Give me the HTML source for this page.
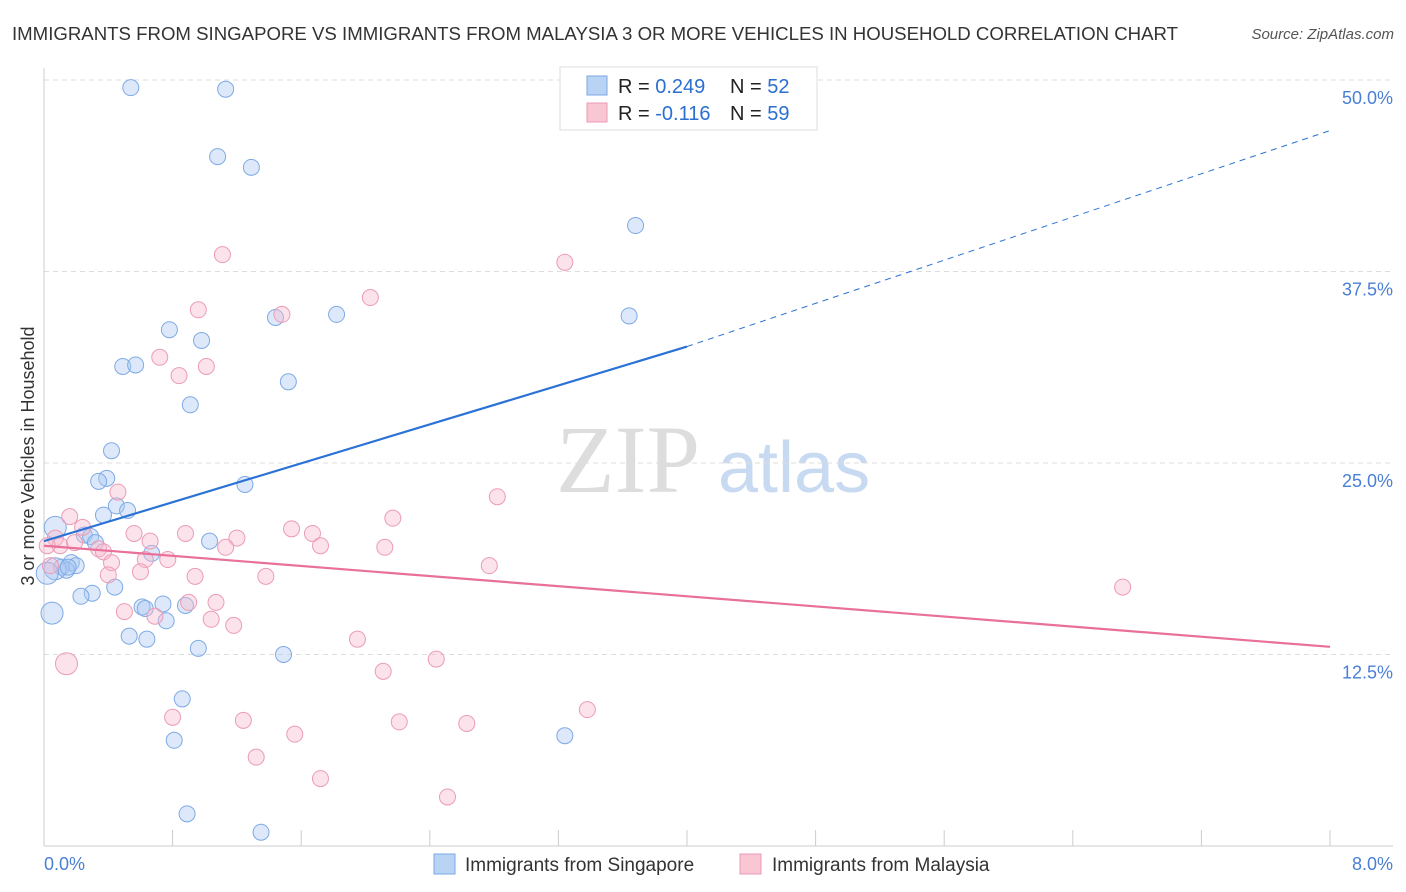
<!DOCTYPE html>
<html><head><meta charset="utf-8"><style>
body{margin:0;background:#fff;font-family:"Liberation Sans",sans-serif;}
svg{display:block}
</style></head><body>
<svg id="c" width="1406" height="892" xmlns="http://www.w3.org/2000/svg">
<text x="12" y="40" font-size="18" fill="#333" textLength="1166" lengthAdjust="spacingAndGlyphs">IMMIGRANTS FROM SINGAPORE VS IMMIGRANTS FROM MALAYSIA 3 OR MORE VEHICLES IN HOUSEHOLD CORRELATION CHART</text>
<text x="1394" y="39" font-size="15" fill="#555" font-style="italic" text-anchor="end">Source: ZipAtlas.com</text>
<text x="34" y="456" font-size="18" fill="#333" transform="rotate(-90 34 456)" text-anchor="middle">3 or more Vehicles in Household</text>
<text x="556" y="492" font-size="96" fill="#ddd" font-family="Liberation Serif,serif">ZIP</text>
<text x="718" y="492" font-size="72" fill="#c8daf2">atlas</text>
<g id="grid"></g><g id="pts"></g><g id="lines"></g>
<g>
<rect x="560" y="67" width="257" height="63" fill="#fff" stroke="#ddd"/>
<rect x="587" y="76" width="20" height="19" fill="#b9d3f5" stroke="#7aa7e3"/>
<rect x="587" y="103" width="20" height="19" fill="#f9c6d4" stroke="#eb9ab3"/>
<text x="618" y="93" font-size="20" fill="#222">R = <tspan fill="#2b6fd1">0.249</tspan><tspan x="730">N = </tspan><tspan fill="#2b6fd1">52</tspan></text>
<text x="618" y="120" font-size="20" fill="#222">R = <tspan fill="#2b6fd1">-0.116</tspan><tspan x="730">N = </tspan><tspan fill="#2b6fd1">59</tspan></text>
</g>
<g>
<rect x="434" y="854" width="21" height="20" fill="#b9d3f5" stroke="#7aa7e3"/>
<text x="465" y="871" font-size="19" fill="#333">Immigrants from Singapore</text>
<rect x="740" y="854" width="21" height="20" fill="#f9c6d4" stroke="#eb9ab3"/>
<text x="772" y="871" font-size="19" fill="#333">Immigrants from Malaysia</text>
</g>
<text x="44" y="870" font-size="18" fill="#4a7fd4">0.0%</text>
<text x="1393" y="870" font-size="18" fill="#4a7fd4" text-anchor="end">8.0%</text>
</svg>
<script>
const yTicks=[12.5,25,37.5,50];
const xTicks=[0,0.8,1.6,2.4,3.2,4,4.8,5.6,6.4,7.2,8];
const sgXs=[0.54,1.13,1.08,1.29,3.68,3.64,1.82,1.44,0.78,0.98,0.49,0.57,1.52,0.91,0.42,0.39,0.34,1.25,0.45,0.52,0.37,0.07,0.25,0.29,0.32,0.67,1.03,0.17,0.11,0.2,0.14,0.07,0.02,0.44,0.30,0.23,0.74,0.88,0.61,0.63,0.76,0.05,0.53,0.64,0.96,1.49,0.86,0.81,3.24,0.89,1.35,0.15];
const sgY=[49.5,49.4,45.0,44.3,40.5,34.6,34.7,34.5,33.7,33.0,31.3,31.4,30.3,28.8,25.8,24.0,23.8,23.6,22.2,21.9,21.6,20.8,20.3,20.2,19.8,19.1,19.9,18.5,18.2,18.3,18.0,18.1,17.8,16.9,16.5,16.3,15.8,15.7,15.6,15.5,14.7,15.2,13.7,13.5,12.9,12.5,9.6,6.9,7.2,2.1,0.9,18.2];
const myX=[1.11,3.24,2.03,0.96,1.48,0.72,1.01,0.84,0.46,2.82,0.16,2.17,1.54,0.24,1.67,0.56,0.88,1.2,0.07,0.1,0.19,0.66,2.12,1.72,1.13,0.34,0.37,0.63,0.42,0.77,2.77,0.6,0.4,0.94,1.38,6.71,1.07,0.9,0.50,0.69,1.04,1.18,1.95,2.44,0.14,2.11,3.38,0.8,1.24,2.21,2.63,1.56,1.32,1.72,2.51,0.04,0.02];
const myY=[38.6,38.1,35.8,35.0,34.7,31.9,31.3,30.7,23.1,22.8,21.5,21.4,20.7,20.8,20.4,20.4,20.4,20.1,20.1,19.6,19.8,19.9,19.5,19.6,19.5,19.4,19.2,18.7,18.5,18.7,18.3,17.9,17.7,17.6,17.6,16.9,15.9,15.9,15.3,15.0,14.8,14.4,13.5,12.2,11.9,11.4,8.9,8.4,8.2,8.1,8.0,7.3,5.8,4.4,3.2,18.3,19.6];
const sgLine=[0,19.9,4,32.6,8,46.7];
const myLine=[0,19.6,8,13.0];
const NS="http://www.w3.org/2000/svg";
const sx=v=>44+v/8*1286, sy=v=>846-v/12.5*191.5;
function mk(t,a,p){const e=document.createElementNS(NS,t);for(const k in a)e.setAttribute(k,a[k]);p.appendChild(e);return e;}
const grid=document.getElementById('grid');
yTicks.forEach(t=>{
 const l=mk('line',{x1:44,x2:1393,y1:sy(t),y2:sy(t),stroke:'#ddd','stroke-dasharray':'5,4'},grid);
 
 
 const tx=mk('text',{x:1393,y:sy(t)+24,'font-size':18,fill:'#4a7fd4','text-anchor':'end'},grid);tx.textContent=t.toFixed(1)+'%';
 
 
});
mk('line',{x1:44,x2:44,y1:68,y2:846,stroke:'#ccc'},grid);
mk('line',{x1:44,x2:1393,y1:846,y2:846,stroke:'#ccc'},grid);
xTicks.forEach(t=>{const l=mk('line',{x1:sx(t),x2:sx(t),y1:830,y2:846,stroke:'#ccc'},grid);
 
 });
const pts=document.getElementById('pts');
sgXs.forEach((x,i)=>{const c=mk('circle',{cx:sx(x),cy:sy(sgY[i]),r:(x<0.1?11:8),fill:'rgba(170,200,242,0.4)',stroke:'#7eaae4','stroke-width':1},pts);
 
 });
myX.forEach((x,i)=>{const c=mk('circle',{cx:sx(x),cy:sy(myY[i]),r:(x<0.2&&myY[i]<13?11:8),fill:'rgba(247,185,205,0.4)',stroke:'#eb9cb5','stroke-width':1},pts);
 
 });
const lines=document.getElementById('lines');
let a=mk('line',{x1:sx(sgLine[0]),y1:sy(sgLine[1]),x2:sx(sgLine[2]),y2:sy(sgLine[3]),stroke:'#2b72d6','stroke-width':2.2},lines);


let b=mk('line',{x1:sx(sgLine[2]),y1:sy(sgLine[3]),x2:sx(sgLine[4]),y2:sy(sgLine[5]),stroke:'#2b72d6','stroke-width':1,'stroke-dasharray':'6,5'},lines);


let m=mk('line',{x1:sx(myLine[0]),y1:sy(myLine[1]),x2:sx(myLine[2]),y2:sy(myLine[3]),stroke:'#e8709a','stroke-width':2.2},lines);


</script>
</body></html>
